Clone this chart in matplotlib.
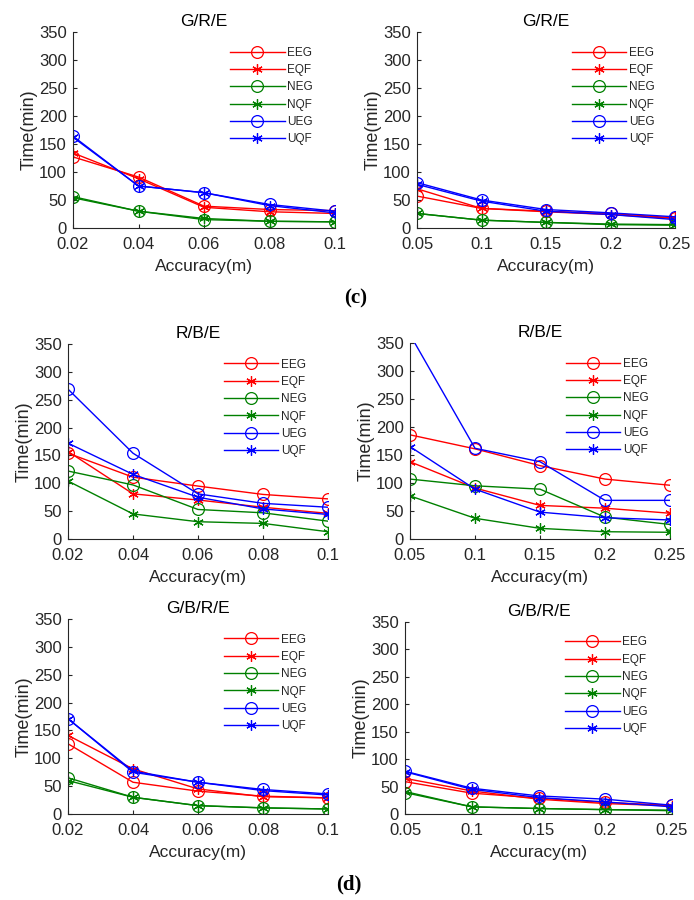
import matplotlib
matplotlib.use("Agg")
import matplotlib.pyplot as plt

plt.rcParams['font.family'] = ['Liberation Sans', 'DejaVu Sans']

series_names = ["EEG", "EQF", "NEG", "NQF", "UEG", "UQF"]

acc_small = [0.02, 0.04, 0.06, 0.08, 0.1]
acc_small_labels = ["0.02", "0.04", "0.06", "0.08", "0.1"]
acc_large = [0.05, 0.1, 0.15, 0.2, 0.25]
acc_large_labels = ["0.05", "0.1", "0.15", "0.2", "0.25"]

# G/R/E, small accuracy
gre_small = {
    "EEG": [127, 91, 39, 33, 31],
    "EQF": [134, 88, 37, 29, 26],
    "NEG": [56, 30, 15, 12, 11],
    "NQF": [54, 30, 17, 12, 11],
    "UEG": [164, 75, 63, 42, 30],
    "UQF": [162, 75, 63, 40, 27],
}
# G/R/E, large accuracy
gre_large = {
    "EEG": [57, 35, 30, 26, 18],
    "EQF": [70, 35, 29, 24, 17],
    "NEG": [26, 14, 10, 6, 5],
    "NQF": [26, 14, 10, 7, 6],
    "UEG": [81, 50, 33, 27, 20],
    "UQF": [78, 48, 30, 24, 15],
}
# R/B/E, small accuracy
rbe_small = {
    "EEG": [154, 111, 95, 80, 72],
    "EQF": [157, 81, 70, 57, 46],
    "NEG": [122, 97, 53, 47, 32],
    "NQF": [104, 45, 31, 28, 13],
    "UEG": [269, 154, 81, 64, 57],
    "UQF": [172, 116, 75, 54, 44],
}
# R/B/E, large accuracy
rbe_large = {
    "EEG": [186, 161, 131, 107, 96],
    "EQF": [138, 91, 60, 55, 46],
    "NEG": [107, 95, 89, 39, 26],
    "NQF": [77, 37, 19, 13, 12],
    "UEG": [365, 162, 138, 69, 69],
    "UQF": [165, 89, 48, 38, 34],
}
# G/B/R/E, small accuracy
gbre_small = {
    "EEG": [126, 57, 41, 32, 29],
    "EQF": [141, 81, 45, 31, 29],
    "NEG": [65, 30, 15, 11, 9],
    "NQF": [60, 30, 15, 11, 9],
    "UEG": [171, 75, 57, 44, 36],
    "UQF": [171, 77, 57, 42, 34],
}
# G/B/R/E, large accuracy
gbre_large = {
    "EEG": [59, 38, 29, 21, 16],
    "EQF": [65, 42, 27, 19, 15],
    "NEG": [39, 13, 10, 8, 6],
    "NQF": [41, 13, 10, 8, 7],
    "UEG": [78, 47, 33, 27, 16],
    "UQF": [77, 45, 30, 22, 13],
}

colors = {"EEG": "#ff0000", "EQF": "#ff0000", "NEG": "#008000",
          "NQF": "#008000", "UEG": "#0000ff", "UQF": "#0000ff"}
ASTER = (6, 2, 0)
markers = {"EEG": "o", "EQF": ASTER, "NEG": "o", "NQF": ASTER, "UEG": "o", "UQF": ASTER}

W, H = 694, 900
fig = plt.figure(figsize=(W / 100, H / 100), dpi=100)

def ax_at(x0, x1, ytop, ybot):
    return fig.add_axes([x0 / W, 1 - ybot / H, (x1 - x0) / W, (ybot - ytop) / H])

panels = [
    (ax_at(73, 335, 32, 228), "G/R/E", acc_small, acc_small_labels, gre_small),
    (ax_at(417, 675, 32, 228), "G/R/E", acc_large, acc_large_labels, gre_large),
    (ax_at(68, 328, 344, 539), "R/B/E", acc_small, acc_small_labels, rbe_small),
    (ax_at(410, 670, 343, 539), "R/B/E", acc_large, acc_large_labels, rbe_large),
    (ax_at(68, 328, 619, 814), "G/B/R/E", acc_small, acc_small_labels, gbre_small),
    (ax_at(405, 672, 622, 814), "G/B/R/E", acc_large, acc_large_labels, gbre_large),
]

axcol = "#262626"
for ax, title, xs, xl, data in panels:
    for name in series_names:
        m = markers[name]
        ax.plot(xs, data[name], color=colors[name], lw=1.0, marker=m,
                markersize=8.5 if m == "o" else 7.5,
                markerfacecolor="none", markeredgecolor=colors[name],
                markeredgewidth=0.9, label=name)
    ax.set_xlim(xs[0], xs[-1])
    ax.set_ylim(0, 350)
    ax.set_xticks(xs)
    ax.set_xticklabels(xl)
    ax.set_yticks(range(0, 351, 50))
    for s in ["top", "right"]:
        ax.spines[s].set_visible(False)
    for s in ["left", "bottom"]:
        ax.spines[s].set_color(axcol)
        ax.spines[s].set_linewidth(0.8)
    ax.tick_params(direction="in", length=3, width=0.8, color=axcol,
                   labelcolor=axcol, labelsize=12)
    ax.tick_params(axis="x", pad=6.5)
    ax.tick_params(axis="y", pad=4.5)
    ax.set_title(title, fontsize=12.5, color="#000000", pad=4)
    ax.set_xlabel("Accuracy(m)", fontsize=12.5, color=axcol, labelpad=5)
    ax.set_ylabel("Time(min)", fontsize=13, color=axcol, labelpad=1)
    leg = ax.legend(loc="upper left", bbox_to_anchor=(0.60, 0.925), frameon=False,
                    fontsize=8.5, handlelength=4.6, handletextpad=0.25,
                    labelspacing=0.45, borderpad=0, borderaxespad=0)
    for t in leg.get_texts():
        t.set_color(axcol)

fig.text(356 / W, 1 - 298 / H, "(c)", ha="center", va="center", fontsize=15,
         fontweight="bold", family=["Liberation Serif", "DejaVu Serif"])
fig.text(349 / W, 1 - 884 / H, "(d)", ha="center", va="center", fontsize=15,
         fontweight="bold", family=["Liberation Serif", "DejaVu Serif"])

fig.savefig("out.png", dpi=100, facecolor="white")
